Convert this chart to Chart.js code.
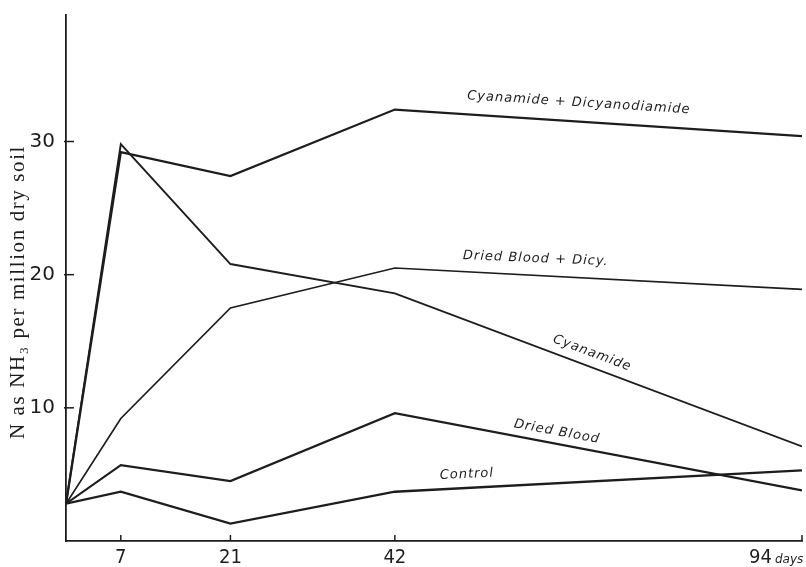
<!DOCTYPE html>
<html>
<head>
<meta charset="utf-8">
<script src="https://cdn.jsdelivr.net/npm/chart.js@4.4.1/dist/chart.umd.min.js"></script>
<style>
  html, body { margin: 0; padding: 0; background: #fff; }
  #wrap { width: 806px; height: 567px; }
</style>
</head>
<body>
<div id="wrap"><canvas id="grafica"></canvas></div>
<script>
// ─── DATOS ────────────────────────────────────────────────────────
const days = [0, 7, 21, 42, 94]
const cyanDicy = [2.8, 29.2, 27.4, 32.4, 30.4]
const bloodDicy = [2.8, 9.2, 17.5, 20.5, 18.9]
const cyanamide = [2.8, 29.8, 20.8, 18.6, 7.1]
const driedBlood = [2.8, 5.7, 4.5, 9.6, 3.8]
const control = [2.8, 3.7, 1.3, 3.7, 5.3]
const seriesNames = ['Cyanamide + Dicyanodiamide', 'Dried Blood + Dicy.', 'Cyanamide', 'Dried Blood', 'Control']
const xTicks = [7, 21, 42, 94]
const yTicks = [10, 20, 30]
const yTitle = 'N as NH\u2083 per million dry soil'
const xUnit = 'days'

const INK = '#1d1d1d'

// where each curve name sits (in chart units) and its tilt
const nameSpots = [
    { day: 65.5, val: 32.9, angle: 3.6 },
    { day: 60.0, val: 21.2, angle: 2.4 },
    { day: 67.2, val: 14.1, angle: 20.5 },
    { day: 62.7, val: 8.2, angle: 10.5 },
    { day: 51.2, val: 5.0, angle: -2.8 }
]

function pts(vals) {
    return vals.map((v, i) => ({ x: days[i], y: v }))
}

// ─── PLUGIN: ticks hacia dentro, etiquetas y título ───────────────
const anotaciones = {
    id: 'anotaciones',
    afterDraw(chart) {
        const { ctx, chartArea, scales: { x, y } } = chart
        ctx.save()
        ctx.strokeStyle = INK
        ctx.fillStyle = INK
        ctx.lineWidth = 1.5

        // inward tick marks
        xTicks.forEach(d => {
            const px = x.getPixelForValue(d)
            ctx.beginPath()
            ctx.moveTo(px, chartArea.bottom)
            ctx.lineTo(px, chartArea.bottom - 6)
            ctx.stroke()
        })
        yTicks.forEach(v => {
            const py = y.getPixelForValue(v)
            ctx.beginPath()
            ctx.moveTo(chartArea.left - 2, py)
            ctx.lineTo(chartArea.left + 8, py)
            ctx.stroke()
        })

        // x tick labels
        ctx.font = '20px "Liberation Sans Narrow", "DejaVu Sans Condensed", "Liberation Sans", sans-serif'
        ctx.textBaseline = 'alphabetic'
        xTicks.forEach((d, i) => {
            const px = x.getPixelForValue(d)
            if (i === xTicks.length - 1) {
                ctx.textAlign = 'right'
                ctx.fillText(String(d), px - 30, 563)
                ctx.font = 'italic 12px "DejaVu Sans", sans-serif'
                ctx.textAlign = 'left'
                ctx.fillText(xUnit, px - 27, 563)
            } else {
                ctx.textAlign = 'center'
                ctx.fillText(String(d), px, 563)
            }
        })

        // y axis title
        ctx.save()
        ctx.translate(18, 292)
        ctx.rotate(-Math.PI / 2)
        ctx.font = '21px "Liberation Serif", "DejaVu Serif", serif'
        ctx.letterSpacing = '1.6px'
        ctx.textAlign = 'center'
        ctx.textBaseline = 'middle'
        ctx.fillText(yTitle, 0, 0)
        ctx.restore()

        // curve names
        ctx.font = 'italic 13px "DejaVu Sans", sans-serif'
        ctx.letterSpacing = '1px'
        ctx.textAlign = 'center'
        ctx.textBaseline = 'middle'
        nameSpots.forEach((s, i) => {
            ctx.save()
            ctx.translate(x.getPixelForValue(s.day), y.getPixelForValue(s.val))
            ctx.rotate(s.angle * Math.PI / 180)
            ctx.fillText(seriesNames[i], 0, 0)
            ctx.restore()
        })
        ctx.restore()
    }
}

// ─── GRÁFICA ──────────────────────────────────────────────────────
new Chart(document.getElementById('grafica'), {
    type: 'line',
    data: {
        datasets: [
            { label: seriesNames[0], data: pts(cyanDicy), borderWidth: 2.3 },
            { label: seriesNames[1], data: pts(bloodDicy), borderWidth: 1.7 },
            { label: seriesNames[2], data: pts(cyanamide), borderWidth: 1.9 },
            { label: seriesNames[3], data: pts(driedBlood), borderWidth: 2.1 },
            { label: seriesNames[4], data: pts(control), borderWidth: 2.3 }
        ].map(d => ({ ...d, borderColor: INK, pointRadius: 0, tension: 0, fill: false }))
    },
    options: {
        responsive: true,
        maintainAspectRatio: false,
        animation: false,
        layout: { padding: { top: 12, right: 4, left: 0, bottom: 0 } },
        plugins: { legend: { display: false }, tooltip: { enabled: false } },
        scales: {
            x: {
                type: 'linear',
                min: 0,
                max: 94,
                grid: { display: false },
                border: { color: INK, width: 1.8 },
                ticks: { display: false },
                afterFit: s => { s.height = 26 }
            },
            y: {
                min: 0,
                max: 39.5,
                grid: { display: false },
                border: { color: INK, width: 1.8 },
                afterBuildTicks: s => { s.ticks = yTicks.map(v => ({ value: v })) },
                ticks: {
                    color: INK,
                    padding: 3,
                    font: { family: '"DejaVu Sans", sans-serif', size: 20 }
                },
                afterFit: s => { s.width = 66 }
            }
        }
    },
    plugins: [anotaciones]
})
</script>
</body>
</html>
